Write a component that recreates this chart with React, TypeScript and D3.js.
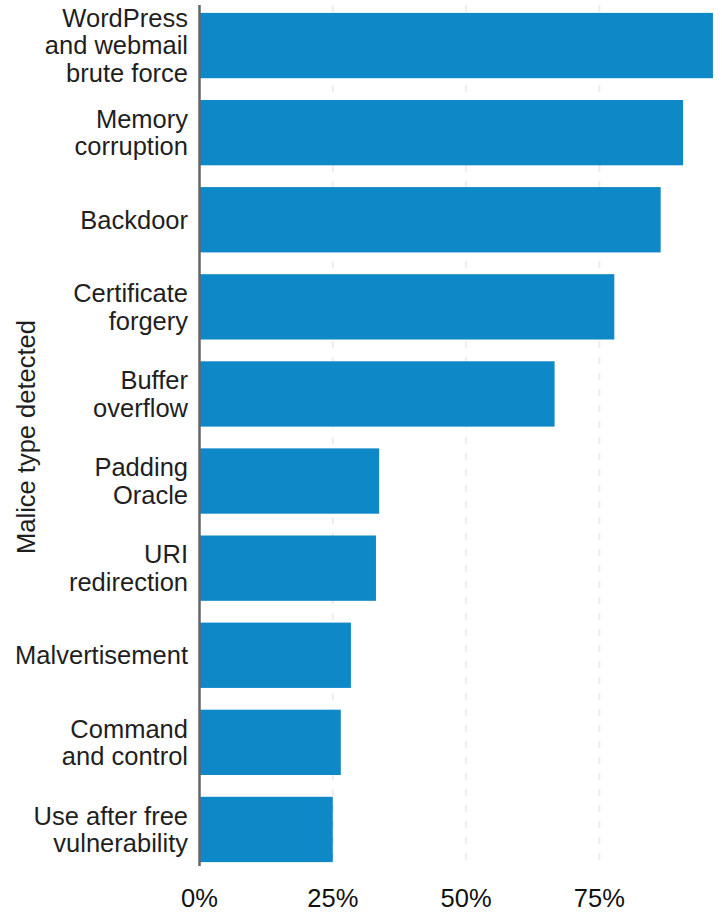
import React from "react";
import * as d3 from "d3";

const categories = [
  "WordPress\nand webmail\nbrute force",
  "Memory\ncorruption",
  "Backdoor",
  "Certificate\nforgery",
  "Buffer\noverflow",
  "Padding\nOracle",
  "URI\nredirection",
  "Malvertisement",
  "Command\nand control",
  "Use after free\nvulnerability",
];
const values = [96.3, 90.7, 86.5, 77.8, 66.6, 33.7, 33.1, 28.4, 26.5, 25.0];
const ticks = [0, 25, 50, 75];
const axisTitle = "Malice type detected";

const W = 722;
const H = 919;
const FONT = "'Liberation Sans', Arial, Helvetica, sans-serif";

export default function App() {
  const x = d3.scaleLinear().domain([0, 96.5]).range([199.5, 714]);
  const y = d3
    .scaleBand<number>()
    .domain(d3.range(categories.length))
    .range([2, 873])
    .paddingInner(0.25)
    .paddingOuter(0.125);
  const axisTop = 5;
  const axisBottom = 866;

  return (
    <svg
      width={W}
      height={H}
      style={{ position: "absolute", left: 0, top: 0, fontFamily: FONT }}
    >
      {ticks
        .filter((t) => t > 0)
        .map((t) => (
          <line
            key={"g" + t}
            x1={x(t)}
            x2={x(t)}
            y1={axisTop}
            y2={axisBottom}
            stroke="#ededed"
            strokeWidth={2}
            strokeDasharray="7,9"
          />
        ))}
      {values.map((v, i) => (
        <rect
          key={"b" + i}
          x={x(0)}
          y={y(i)}
          width={x(v) - x(0)}
          height={y.bandwidth()}
          fill="#0f88c8"
        />
      ))}
      <line
        x1={x(0)}
        x2={x(0)}
        y1={axisTop}
        y2={axisBottom}
        stroke="#666"
        strokeWidth={2.5}
      />
      {categories.map((c, i) => {
        const lines = c.split("\n");
        const cy = (y(i) as number) + y.bandwidth() / 2;
        return (
          <text
            key={"c" + i}
            x={188}
            textAnchor="end"
            fontSize={25.5}
            fill="#1f1f1f"
          >
            {lines.map((l, j) => (
              <tspan key={j} x={188} y={cy + (j - (lines.length - 1) / 2) * 27.5} dy="0.35em">
                {l}
              </tspan>
            ))}
          </text>
        );
      })}
      {ticks.map((t) => (
        <text
          key={"t" + t}
          x={x(t)}
          y={907}
          textAnchor="middle"
          fontSize={25.5}
          fill="#111"
        >
          {t + "%"}
        </text>
      ))}
      <text
        transform={`translate(35,437) rotate(-90)`}
        textAnchor="middle"
        fontSize={25.5}
        fill="#1f1f1f"
      >
        {axisTitle}
      </text>
    </svg>
  );
}
